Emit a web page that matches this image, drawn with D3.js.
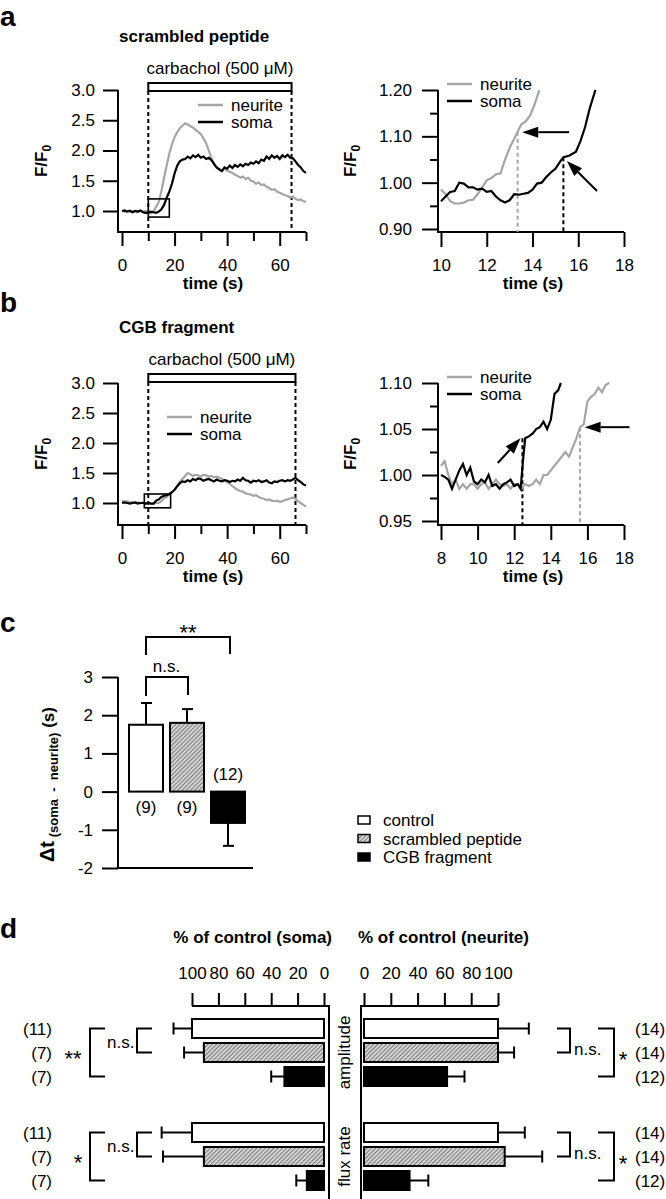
<!DOCTYPE html>
<html>
<head>
<meta charset="utf-8">
<script src="https://cdn.jsdelivr.net/npm/d3@7/dist/d3.min.js"></script>
<style>
html,body{margin:0;padding:0;background:#fff;}
svg{display:block;}
text{font-family:"Liberation Sans",Arial,Helvetica,sans-serif;fill:#000;white-space:pre;}
</style>
</head>
<body>
<svg id="fig" width="666" height="1199"></svg>
<script>
// ================= DATA =================
const timeOverview = [0,1,2,3,4,5,6,7,8,9,10,11,12,13,14,15,16,17,18,19,20,21,22,23,24,25,26,27,28,29,30,31,32,33,34,35,36,37,38,39,40,41,42,43,44,45,46,47,48,49,50,51,52,53,54,55,56,57,58,59,60,61,62,63,64,65,66,67,68,69,70];

const aNeurite = [1.00,0.99,1.00,1.01,0.99,1.00,0.98,1.00,0.99,1.00,
 0.98,0.96,1.00,1.07,1.15,1.33,1.55,1.75,1.95,2.10,
 2.22,2.30,2.37,2.41,2.45,2.43,2.40,2.38,2.34,2.31,
 2.27,2.20,2.12,2.00,1.88,1.78,1.72,1.68,1.66,1.70,
 1.67,1.65,1.63,1.60,1.58,1.55,1.57,1.53,1.55,1.50,
 1.49,1.45,1.47,1.43,1.44,1.40,1.38,1.35,1.36,1.32,
 1.30,1.28,1.26,1.25,1.22,1.24,1.20,1.18,1.19,1.16,
 1.15];
const aSoma = [1.00,1.01,0.99,1.00,0.98,1.00,0.99,1.01,0.98,0.97,
 0.97,0.99,0.98,0.97,0.99,1.03,1.10,1.22,1.32,1.45,
 1.62,1.75,1.82,1.85,1.86,1.90,1.87,1.92,1.89,1.93,
 1.88,1.90,1.86,1.88,1.84,1.78,1.72,1.69,1.66,1.72,
 1.70,1.75,1.71,1.76,1.73,1.77,1.74,1.78,1.76,1.80,
 1.78,1.82,1.79,1.85,1.83,1.90,1.86,1.92,1.88,1.91,
 1.86,1.92,1.89,1.93,1.88,1.87,1.82,1.76,1.72,1.66,
 1.63];
const bNeurite = [1.04,1.02,1.03,1.01,1.02,1.00,1.01,1.00,1.01,0.99,
 1.00,0.99,0.99,1.00,1.00,1.03,1.08,1.10,1.15,1.18,
 1.22,1.28,1.35,1.40,1.45,1.50,1.48,1.45,1.47,1.46,
 1.44,1.47,1.46,1.44,1.45,1.43,1.44,1.42,1.40,1.38,
 1.35,1.32,1.28,1.25,1.22,1.20,1.19,1.16,1.15,1.14,
 1.12,1.13,1.10,1.08,1.07,1.05,1.06,1.04,1.03,1.04,
 1.02,1.03,1.05,1.06,1.08,1.09,1.07,1.03,1.00,0.97,
 0.94];
const bSoma = [1.00,1.01,1.00,0.99,1.00,1.01,0.99,1.00,1.00,0.99,
 1.00,0.99,0.99,1.04,1.06,1.10,1.12,1.13,1.15,1.18,
 1.22,1.28,1.33,1.36,1.35,1.38,1.36,1.40,1.38,1.41,
 1.40,1.37,1.39,1.40,1.38,1.36,1.39,1.37,1.36,1.38,
 1.37,1.35,1.37,1.36,1.39,1.37,1.42,1.38,1.37,1.34,
 1.37,1.36,1.38,1.35,1.36,1.38,1.34,1.33,1.36,1.35,
 1.37,1.38,1.36,1.38,1.37,1.39,1.42,1.38,1.35,1.31,
 1.29];

// zoomed traces (panel a right)
const aZoomNeuriteT = [10.0,10.2,10.4,10.6,10.8,11.0,11.2,11.4,11.6,11.8,12.0,12.2,12.4,12.6,12.8,13.0,13.2,13.35,13.5,13.7,13.9,14.1,14.3];
const aZoomNeuriteF = [0.985,0.975,0.960,0.955,0.955,0.957,0.962,0.963,0.975,0.990,1.005,1.010,1.018,1.020,1.050,1.075,1.095,1.110,1.125,1.132,1.145,1.170,1.200];
const aZoomSomaT = [10.0,10.2,10.4,10.6,10.8,11.0,11.2,11.4,11.6,11.8,12.0,12.2,12.4,12.6,12.8,13.0,13.2,13.4,13.6,13.8,14.0,14.2,14.4,14.6,14.8,15.0,15.2,15.35,15.6,15.9,16.1,16.3,16.5,16.75];
const aZoomSomaF = [0.960,0.970,0.980,0.982,1.000,0.998,0.990,0.990,0.985,0.987,0.980,0.982,0.970,0.962,0.957,0.962,0.975,0.974,0.976,0.978,0.985,0.998,1.000,1.012,1.022,1.030,1.045,1.055,1.058,1.067,1.090,1.120,1.160,1.200];

// zoomed traces (panel b right)
const bZoomNeuriteT = [8.0,8.2,8.4,8.6,8.8,9.0,9.2,9.4,9.6,9.8,10.0,10.2,10.4,10.6,10.8,11.0,11.2,11.4,11.6,11.8,12.0,12.2,12.4,12.6,12.8,13.0,13.2,13.4,13.6,13.8,14.0,14.2,14.4,14.6,14.8,15.0,15.2,15.4,15.6,15.8,16.0,16.2,16.4,16.6,16.8,17.0,17.2];
const bZoomNeuriteF = [1.010,1.015,1.000,0.990,0.995,0.985,0.990,0.985,0.990,0.990,0.985,0.990,0.992,0.985,0.990,0.995,0.990,0.988,0.990,0.985,0.990,0.990,0.985,0.990,0.988,0.990,0.995,0.990,1.000,1.000,1.005,1.010,1.015,1.020,1.025,1.020,1.030,1.040,1.052,1.055,1.080,1.085,1.088,1.095,1.090,1.098,1.100];
const bZoomSomaT = [8.0,8.2,8.4,8.6,8.8,9.0,9.2,9.4,9.6,9.8,10.0,10.2,10.4,10.6,10.8,11.0,11.2,11.4,11.6,11.8,12.0,12.2,12.35,12.5,12.6,12.8,13.0,13.2,13.4,13.6,13.8,14.0,14.2,14.4,14.55];
const bZoomSomaF = [1.000,0.998,0.995,0.985,0.995,1.005,1.012,1.000,1.008,0.993,0.990,0.995,0.992,1.000,0.988,0.990,0.985,0.990,0.992,0.995,0.988,0.990,0.985,1.020,1.040,1.042,1.045,1.050,1.052,1.058,1.050,1.060,1.088,1.092,1.100];

// ticks
const overviewYTicks = [1.0,1.5,2.0,2.5,3.0];
const overviewXMajor = [0,20,40,60];
const overviewXMinor = [10,30,50,70];
const aZoomXTicks = [10,12,14,16,18];
const aZoomYMajor = [0.90,1.00,1.10,1.20];
const aZoomYMinor = [0.95,1.05,1.15];
const bZoomXTicks = [8,10,12,14,16,18];
const bZoomYMajor = [0.95,1.00,1.05,1.10];
const bZoomYMinor = [0.975,1.025,1.075];

// carbachol application windows (s) and zoom boxes
const aCarbachol = [10, 64.5];
const bCarbachol = [10, 66];
const aZoomBoxT = [10, 18], aZoomBoxF = [0.9, 1.2];
const bZoomBoxT = [8.5, 18.5], bZoomBoxF = [0.92, 1.15];

// onset markers [time, F] for neurite / soma
const aOnsetNeurite = [13.35, 1.11], aOnsetSoma = [15.35, 1.055];
const bOnsetNeurite = [15.6, 1.052], bOnsetSoma = [12.45, 1.04];
// arrows [tailT, tailF, tipT, tipF]
const aArrows = [[15.6,1.109,13.55,1.109],[16.82,0.982,15.5,1.047]];
const bArrows = [[11.1,1.013,12.35,1.04],[18.3,1.052,15.85,1.052]];

// panel c
const cCats = ["control","scrambled peptide","CGB fragment"];
const cMeans = [1.75, 1.80, -0.82];
const cErr = [0.57, 0.36, 0.60];
const cN = ["(9)","(9)","(12)"];
const cYTicks = [-2,-1,0,1,2,3];

// panel d (% of control)
const dConds = ["control","scrambled peptide","CGB fragment"];
const dGroups = ["amplitude","flux rate"];
const somaAmp = [100, 91, 30], somaAmpErr = [14, 15, 10];
const somaFlux = [100, 91, 13], somaFluxErr = [23, 31, 8];
const neuriteAmp = [100, 100, 62], neuriteAmpErr = [23, 12, 13];
const neuriteFlux = [100, 105, 34], neuriteFluxErr = [20, 28, 14];
const somaN = ["(11)","(7)","(7)"];
const neuriteN = ["(14)","(14)","(12)"];
const pctTicks = [0,20,40,60,80,100];

// ================= DRAW =================
const svg = d3.select("#fig");
const FS = 17;
const GRAY = "#a5a5a5";

const defs = svg.append("defs");
const pat = defs.append("pattern").attr("id","hatch").attr("patternUnits","userSpaceOnUse")
  .attr("width",3).attr("height",3).attr("patternTransform","rotate(45)");
pat.append("rect").attr("width",3).attr("height",3).attr("fill","#d6d6d6");
pat.append("line").attr("x1",0.5).attr("y1",0).attr("x2",0.5).attr("y2",3).attr("stroke","#7c7c7c").attr("stroke-width",1.1);
const fills = ["#fff","url(#hatch)","#000"];

function styleAxis(sel){
  sel.select(".domain").remove();
  sel.attr("font-size",FS).attr("font-family",null);
  sel.selectAll("line").attr("stroke-width",2);
}
function txt(x,y,s,opt={}){
  const t = svg.append("text").attr("x",x).attr("y",y).attr("font-size",opt.size||FS).text(s);
  if(opt.bold) t.attr("font-weight","bold");
  if(opt.anchor) t.attr("text-anchor",opt.anchor);
  return t;
}
function arrow(g,x1,y1,x2,y2){
  const dx=x2-x1, dy=y2-y1, L=Math.hypot(dx,dy), ux=dx/L, uy=dy/L;
  const hl=16, hw=5.5;
  const bx=x2-ux*hl, by=y2-uy*hl;
  g.append("line").attr("x1",x1).attr("y1",y1).attr("x2",bx).attr("y2",by).attr("stroke","#000").attr("stroke-width",2);
  g.append("path").attr("d",`M${x2},${y2}L${bx-uy*hw},${by+ux*hw}L${bx+uy*hw},${by-ux*hw}Z`).attr("fill","#000");
}
function legendLines(g,x,y,gap){
  g.append("line").attr("x1",x).attr("x2",x+25).attr("y1",y).attr("y2",y).attr("stroke",GRAY).attr("stroke-width",2.5);
  g.append("line").attr("x1",x).attr("x2",x+25).attr("y1",y+gap).attr("y2",y+gap).attr("stroke","#000").attr("stroke-width",2.5);
  g.append("text").attr("x",x+33).attr("y",y+6).attr("font-size",FS).text("neurite");
  g.append("text").attr("x",x+33).attr("y",y+gap+6).attr("font-size",FS).text("soma");
}

// ---- overview panels ----
function overview(o){
  const g = svg.append("g");
  const x = d3.scaleLinear().domain([0,70]).range([122,306]);
  const y = d3.scaleLinear().domain([1,3]).range([o.y1,o.y3]);
  styleAxis(g.append("g").attr("transform","translate(118,0)")
    .call(d3.axisLeft(y).tickValues(overviewYTicks).tickSize(15).tickPadding(8).tickFormat(d3.format(".1f"))));
  styleAxis(g.append("g").attr("transform",`translate(0,${o.axisY})`)
    .call(d3.axisBottom(x).tickValues(overviewXMajor).tickSize(14).tickPadding(13).tickFormat(d3.format("d"))));
  styleAxis(g.append("g").attr("transform",`translate(0,${o.axisY})`)
    .call(d3.axisBottom(x).tickValues(overviewXMinor).tickSize(9).tickFormat("")));
  g.append("path").attr("d",`M118,${y(3)}V${o.axisY}H${x(70)}`).attr("fill","none").attr("stroke","#000").attr("stroke-width",2);
  const [c0,c1] = o.carb;
  g.append("rect").attr("x",x(c0)).attr("y",o.barTop).attr("width",x(c1)-x(c0)).attr("height",8)
    .attr("fill","#fff").attr("stroke","#000").attr("stroke-width",2);
  [c0,c1].forEach(t=>g.append("line").attr("x1",x(t)).attr("x2",x(t)).attr("y1",o.barTop+8).attr("y2",o.axisY)
    .attr("stroke","#000").attr("stroke-width",2).attr("stroke-dasharray","4,3"));
  g.append("text").attr("x",(x(c0)+x(c1))/2).attr("y",o.barTop-9).attr("text-anchor","middle").attr("font-size",FS).text("carbachol (500 μM)");
  const line = d3.line().x(d=>x(d[0])).y(d=>y(d[1]));
  g.append("path").datum(d3.zip(timeOverview,o.neurite)).attr("d",line).attr("fill","none").attr("stroke",GRAY).attr("stroke-width",2.2);
  g.append("path").datum(d3.zip(timeOverview,o.soma)).attr("d",line).attr("fill","none").attr("stroke","#000").attr("stroke-width",2.2);
  g.append("rect").attr("x",x(o.boxT[0])).attr("y",y(o.boxF[1])).attr("width",x(o.boxT[1])-x(o.boxT[0]))
    .attr("height",y(o.boxF[0])-y(o.boxF[1])).attr("fill","none").attr("stroke","#000").attr("stroke-width",1.6);
  legendLines(g,o.legX,o.legY,17);
  g.append("text").attr("x",213).attr("y",o.axisY+57).attr("text-anchor","middle").attr("font-size",FS).attr("font-weight","bold").text("time (s)");
  const yl = g.append("text").attr("transform",`translate(47,${(y(3)+o.axisY)/2}) rotate(-90)`).attr("text-anchor","middle").attr("font-size",FS).attr("font-weight","bold");
  yl.append("tspan").text("F/F");
  yl.append("tspan").attr("font-size",12).attr("dy",4).text("0");
  g.append("text").attr("x",119).attr("y",o.titleY).attr("font-size",FS).attr("font-weight","bold").text(o.title);
}

overview({y1:211, y3:90, axisY:232, carb:aCarbachol, barTop:83, neurite:aNeurite, soma:aSoma,
  boxT:aZoomBoxT, boxF:aZoomBoxF, legX:198, legY:105, titleY:42, title:"scrambled peptide"});
overview({y1:503, y3:383, axisY:525, carb:bCarbachol, barTop:374, neurite:bNeurite, soma:bSoma,
  boxT:bZoomBoxT, boxF:bZoomBoxF, legX:167, legY:417, titleY:333, title:"CGB fragment"});

// ---- zoom panels ----
function zoomPanel(o){
  const g = svg.append("g");
  const x = d3.scaleLinear().domain(o.xDom).range(o.xRange);
  const y = d3.scaleLinear().domain(o.yDom).range(o.yRange);
  styleAxis(g.append("g").attr("transform","translate(438,0)")
    .call(d3.axisLeft(y).tickValues(o.yMajor).tickSize(16).tickPadding(10).tickFormat(d3.format(".2f"))));
  styleAxis(g.append("g").attr("transform","translate(438,0)")
    .call(d3.axisLeft(y).tickValues(o.yMinor).tickSize(8).tickFormat("")));
  styleAxis(g.append("g").attr("transform",`translate(0,${o.axisY})`)
    .call(d3.axisBottom(x).tickValues(o.xTicks).tickSize(15).tickPadding(12).tickFormat(d3.format("d"))));
  g.append("path").attr("d",`M438,${y(o.yDom[1])}V${o.axisY}H${x(o.xDom[1])}`).attr("fill","none").attr("stroke","#000").attr("stroke-width",2);
  g.append("line").attr("x1",x(o.onN[0])).attr("x2",x(o.onN[0])).attr("y1",y(o.onN[1])).attr("y2",o.axisY)
    .attr("stroke",GRAY).attr("stroke-width",2).attr("stroke-dasharray","4,3");
  g.append("line").attr("x1",x(o.onS[0])).attr("x2",x(o.onS[0])).attr("y1",y(o.onS[1])).attr("y2",o.axisY)
    .attr("stroke","#000").attr("stroke-width",2).attr("stroke-dasharray","4,3");
  const line = d3.line().x(d=>x(d[0])).y(d=>y(d[1]));
  g.append("path").datum(d3.zip(o.nT,o.nF)).attr("d",line).attr("fill","none").attr("stroke",GRAY).attr("stroke-width",2.2);
  g.append("path").datum(d3.zip(o.sT,o.sF)).attr("d",line).attr("fill","none").attr("stroke","#000").attr("stroke-width",2.2);
  o.arrows.forEach(a=>arrow(g,x(a[0]),y(a[1]),x(a[2]),y(a[3])));
  legendLines(g,447,o.legY,17);
  g.append("text").attr("x",533).attr("y",o.axisY+57).attr("text-anchor","middle").attr("font-size",FS).attr("font-weight","bold").text("time (s)");
  const yl = g.append("text").attr("transform",`translate(356,${(y(o.yDom[1])+o.axisY)/2}) rotate(-90)`).attr("text-anchor","middle").attr("font-size",FS).attr("font-weight","bold");
  yl.append("tspan").text("F/F");
  yl.append("tspan").attr("font-size",12).attr("dy",4).text("0");
}
zoomPanel({xDom:[10,18], xRange:[441,624], yDom:[0.9,1.2], yRange:[229,90], axisY:232,
  yMajor:aZoomYMajor, yMinor:aZoomYMinor, xTicks:aZoomXTicks,
  nT:aZoomNeuriteT, nF:aZoomNeuriteF, sT:aZoomSomaT, sF:aZoomSomaF,
  onN:aOnsetNeurite, onS:aOnsetSoma, arrows:aArrows, legY:84});
zoomPanel({xDom:[8,18], xRange:[441,624], yDom:[0.95,1.10], yRange:[521,383], axisY:525,
  yMajor:bZoomYMajor, yMinor:bZoomYMinor, xTicks:bZoomXTicks,
  nT:bZoomNeuriteT, nF:bZoomNeuriteF, sT:bZoomSomaT, sF:bZoomSomaF,
  onN:bOnsetNeurite, onS:bOnsetSoma, arrows:bArrows, legY:377});

// ---- panel c ----
{
  const g = svg.append("g");
  const x = d3.scaleBand().domain(cCats).range([129,245]).paddingInner(7/41);
  const y = d3.scaleLinear().domain([-2,3]).range([868,677]);
  styleAxis(g.append("g").attr("transform","translate(118,0)")
    .call(d3.axisLeft(y).tickValues(cYTicks).tickSize(16).tickPadding(9).tickFormat(d=>String(d))));
  g.append("path").attr("d",`M118,${y(3)}V${y(-2)}H253`).attr("fill","none").attr("stroke","#000").attr("stroke-width",2);
  const bw = x.bandwidth();
  cCats.forEach((c,i)=>{
    const v = cMeans[i], xc = x(c)+bw/2;
    const e = v + Math.sign(v)*cErr[i];
    g.append("line").attr("x1",xc).attr("x2",xc).attr("y1",y(v)).attr("y2",y(e)).attr("stroke","#000").attr("stroke-width",2);
    g.append("line").attr("x1",xc-5).attr("x2",xc+6).attr("y1",y(e)).attr("y2",y(e)).attr("stroke","#000").attr("stroke-width",2);
    g.append("rect").attr("x",x(c)).attr("y",y(Math.max(0,v))).attr("width",bw).attr("height",Math.abs(y(v)-y(0)))
      .attr("fill",fills[i]).attr("stroke","#000").attr("stroke-width",2);
    const ly = v>=0 ? y(0)+21 : y(0)-12;
    g.append("text").attr("x",xc).attr("y",ly).attr("text-anchor","middle").attr("font-size",FS).text(cN[i]);
  });
  const cxs = cCats.map(c=>x(c)+bw/2);
  g.append("path").attr("d",`M${cxs[0]},696V677H${cxs[1]+1}V695`).attr("fill","none").attr("stroke","#000").attr("stroke-width",2);
  g.append("text").attr("x",(cxs[0]+cxs[1])/2).attr("y",672).attr("text-anchor","middle").attr("font-size",FS).text("n.s.");
  g.append("path").attr("d",`M${cxs[0]},655V637H${cxs[2]+2}V654`).attr("fill","none").attr("stroke","#000").attr("stroke-width",2);
  g.append("text").attr("x",188).attr("y",640).attr("text-anchor","middle").attr("font-size",22).text("**");
  const yl = g.append("text").attr("transform","translate(54,862) rotate(-90)").attr("font-weight","bold");
  yl.append("tspan").attr("font-size",20).text("Δt");
  yl.append("tspan").attr("font-size",13).attr("dy",4).text(" (soma  -  neurite)");
  yl.append("tspan").attr("font-size",FS).attr("dy",-4).text(" (s)");
  cCats.forEach((c,i)=>{
    const ly = 820 + i*18.5;
    g.append("rect").attr("x",358).attr("y",ly-4).attr("width",12).attr("height",8).attr("fill",fills[i]).attr("stroke","#000").attr("stroke-width",1.5);
    g.append("text").attr("x",383).attr("y",ly+6).attr("font-size",FS).text(c);
  });
}

// ---- panel d ----
{
  const g = svg.append("g");
  const xL = d3.scaleLinear().domain([0,100]).range([324,192]);
  const xR = d3.scaleLinear().domain([0,100]).range([364,498]);
  const row = d3.scaleBand().domain(dConds).range([0,67]).paddingInner(5/24);
  const grp = d3.scalePoint().domain(dGroups).range([1019,1123]);
  const bh = row.bandwidth();
  styleAxis(g.append("g").attr("transform","translate(0,1006)")
    .call(d3.axisTop(xL).tickValues(pctTicks).tickSize(13).tickPadding(14).tickFormat(d3.format("d"))));
  styleAxis(g.append("g").attr("transform","translate(0,1006)")
    .call(d3.axisTop(xR).tickValues(pctTicks).tickSize(13).tickPadding(14).tickFormat(d3.format("d"))));
  g.append("path").attr("d","M192,1006H329V1199").attr("fill","none").attr("stroke","#000").attr("stroke-width",2);
  g.append("path").attr("d","M498,1006H361V1199").attr("fill","none").attr("stroke","#000").attr("stroke-width",2);
  g.append("text").attr("x",332).attr("y",943).attr("text-anchor","end").attr("font-size",FS).attr("font-weight","bold").text("% of control (soma)");
  g.append("text").attr("x",358).attr("y",943).attr("font-size",FS).attr("font-weight","bold").text("% of control (neurite)");

  const soma = {"amplitude":[somaAmp,somaAmpErr], "flux rate":[somaFlux,somaFluxErr]};
  const neur = {"amplitude":[neuriteAmp,neuriteAmpErr], "flux rate":[neuriteFlux,neuriteFluxErr]};
  const rowC = (gr,c)=>grp(gr)+row(c)+bh/2;
  dGroups.forEach((gr,gi)=>{
    dConds.forEach((c,i)=>{
      const yT = grp(gr)+row(c), yc = yT+bh/2;
      const vs = soma[gr][0][i], es = soma[gr][1][i];
      g.append("line").attr("x1",xL(vs)).attr("x2",xL(vs+es)).attr("y1",yc).attr("y2",yc).attr("stroke","#000").attr("stroke-width",2);
      g.append("line").attr("x1",xL(vs+es)).attr("x2",xL(vs+es)).attr("y1",yc-6).attr("y2",yc+6).attr("stroke","#000").attr("stroke-width",2);
      g.append("rect").attr("x",xL(vs)).attr("y",yT).attr("width",xL(0)-xL(vs)).attr("height",bh)
        .attr("fill",fills[i]).attr("stroke","#000").attr("stroke-width",2);
      const vn = neur[gr][0][i], en = neur[gr][1][i];
      g.append("line").attr("x1",xR(vn)).attr("x2",xR(vn+en)).attr("y1",yc).attr("y2",yc).attr("stroke","#000").attr("stroke-width",2);
      g.append("line").attr("x1",xR(vn+en)).attr("x2",xR(vn+en)).attr("y1",yc-6).attr("y2",yc+6).attr("stroke","#000").attr("stroke-width",2);
      g.append("rect").attr("x",xR(0)).attr("y",yT).attr("width",xR(vn)-xR(0)).attr("height",bh)
        .attr("fill",fills[i]).attr("stroke","#000").attr("stroke-width",2);
      g.append("text").attr("x",52).attr("y",yc+6).attr("text-anchor","end").attr("font-size",FS).text(somaN[i]);
      g.append("text").attr("x",635).attr("y",yc+6).attr("font-size",FS).text(neuriteN[i]);
    });
    const y0 = rowC(gr,dConds[0]), y1 = rowC(gr,dConds[1]), y2 = rowC(gr,dConds[2]);
    g.append("path").attr("d",`M152,${y0}H137V${y1}H152`).attr("fill","none").attr("stroke","#000").attr("stroke-width",2);
    g.append("path").attr("d",`M105,${y0}H90V${y2}H105`).attr("fill","none").attr("stroke","#000").attr("stroke-width",2);
    g.append("text").attr("x",107).attr("y",y0+19.5).attr("font-size",FS).text("n.s.");
    g.append("text").attr("x",gi===0?73:78).attr("y",y1+13).attr("text-anchor","middle").attr("font-size",22).text(gi===0?"**":"*");
    g.append("path").attr("d",`M557,${y0}H570V${y1}H557`).attr("fill","none").attr("stroke","#000").attr("stroke-width",2);
    g.append("path").attr("d",`M598,${y0}H614V${y2}H598`).attr("fill","none").attr("stroke","#000").attr("stroke-width",2);
    g.append("text").attr("x",574).attr("y",y1+2.5).attr("font-size",FS).text("n.s.");
    g.append("text").attr("x",623).attr("y",y1+14).attr("text-anchor","middle").attr("font-size",22).text("*");
    g.append("text").attr("transform",`translate(350,${grp(gr)+33.5}) rotate(-90)`).attr("text-anchor","middle").attr("font-size",FS).text(gr);
  });
}

// panel letters
[["a",26],["b",312],["c",632],["d",938]].forEach(([s,y])=>txt(0,y,s,{bold:true,size:28}));
</script>
</body>
</html>
